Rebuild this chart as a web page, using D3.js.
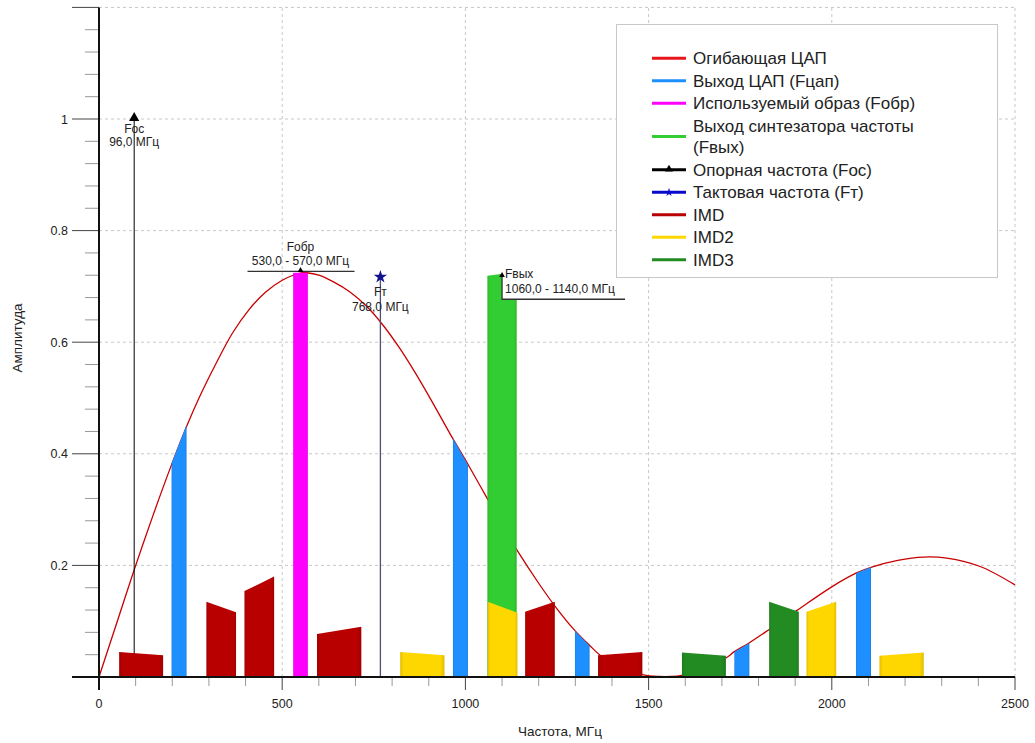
<!DOCTYPE html>
<html><head><meta charset="utf-8">
<script src="https://cdn.jsdelivr.net/npm/d3@7"></script>
<style>
html,body{margin:0;padding:0;background:#fff;}
svg{display:block;font-family:"Liberation Sans",Arial,sans-serif;}
</style></head>
<body>
<svg id="c" width="1035" height="743"></svg>
<script>
// ---------- DATA ----------
const envelopeFreq = [0, 50, 96, 146, 196, 241, 273, 318, 364, 409, 455, 500, 530, 555, 567, 600, 640, 685, 731, 771, 821, 867, 912, 965, 1008, 1062, 1100, 1143, 1200, 1249, 1299, 1340, 1368, 1420, 1486, 1530, 1560, 1590, 1650, 1713, 1733, 1774, 1831, 1904, 2001, 2066, 2109, 2180, 2250, 2314, 2405, 2500];
const envelopeAmp  = [0, 0.100, 0.192, 0.287, 0.377, 0.452, 0.500, 0.560, 0.616, 0.658, 0.690, 0.711, 0.720, 0.7245, 0.7245, 0.720, 0.708, 0.690, 0.664, 0.634, 0.589, 0.541, 0.490, 0.428, 0.380, 0.317, 0.272, 0.225, 0.168, 0.123, 0.083, 0.056, 0.039, 0.020, 0.004, 0.001, 0.001, 0.003, 0.016, 0.035, 0.045, 0.061, 0.086, 0.119, 0.162, 0.186, 0.197, 0.209, 0.215, 0.213, 0.198, 0.165];

// bands: [start MHz, end MHz, amplitude at start, amplitude at end]
const dacBands   = [[198, 239, 0.383, 0.452], [966, 1007, 0.428, 0.380], [1299, 1339, 0.083, 0.056], [1734, 1775, 0.045, 0.061], [2066, 2107, 0.186, 0.197]];
const imageBands = [[530, 570, 0.7245, 0.7245]];
const outBands   = [[1060, 1140, 0.719, 0.726]];
const imdBands   = [[55, 175, 0.045, 0.039], [293, 374, 0.135, 0.116], [397, 478, 0.154, 0.180], [595, 716, 0.077, 0.090], [1163, 1244, 0.117, 0.135], [1362, 1483, 0.039, 0.045]];
const imd2Bands  = [[822, 943, 0.045, 0.039], [1061, 1142, 0.135, 0.115], [1931, 2012, 0.117, 0.135], [2130, 2251, 0.038, 0.044]];
const imd3Bands  = [[1591, 1711, 0.044, 0.038], [1829, 1910, 0.135, 0.117]];

const refFreq = 96.0, refAmp = 1.0;       // Fос
const clkFreq = 768.0, clkAmp = 0.717;    // Fт
const imgLabel = {center: 550, amp: 0.727, name: "Fобр", text: "530,0 - 570,0 МГц"};
const outLabel = {center: 1100, amp: 0.72, name: "Fвых", text: "1060,0 - 1140,0 МГц"};

const xTicksMajor = [0, 500, 1000, 1500, 2000, 2500];
const yTicksMajor = [0, 0.2, 0.4, 0.6, 0.8, 1.0, 1.2];
const yTickLabels = ["", "0.2", "0.4", "0.6", "0.8", "1", ""];

const legendNames = ["Огибающая ЦАП", "Выход ЦАП (Fцап)", "Используемый образ (Fобр)", ["Выход синтезатора частоты", "(Fвых)"], "Опорная частота (Fос)", "Тактовая частота (Fт)", "IMD", "IMD2", "IMD3"];

// ---------- STYLE ----------
const C = {
  env: "#c80000", envLegend: "#e8161b", dac: "#1e8fff", image: "#ff00ff", out: "#32cd32",
  imd: "#b80000", imd2: "#ffd700", imd3: "#228b22", ref: "#000000", clk: "#0a0acd",
  clkLine: "#50507a", star: "#12128c", grid: "#c8c8c8", text: "#222"
};
const legendColors = [C.envLegend, C.dac, C.image, C.out, C.ref, C.clk, C.imd, C.imd2, C.imd3];

const svg = d3.select("#c");
const x = d3.scaleLinear().domain([0, 2500]).range([99, 1015]);
const y = d3.scaleLinear().domain([0, 1.2]).range([677, 7.4]);

// gridlines
const grid = svg.append("g");
grid.selectAll("line.v").data(xTicksMajor.slice(1)).join("line")
  .attr("x1", d => x(d)).attr("x2", d => x(d)).attr("y1", y(0)).attr("y2", y(1.2))
  .attr("stroke", C.grid).attr("stroke-dasharray", "3,3");
grid.selectAll("line.h").data(yTicksMajor.slice(1)).join("line")
  .attr("x1", x(0)).attr("x2", x(2500)).attr("y1", d => y(d)).attr("y2", d => y(d))
  .attr("stroke", C.grid).attr("stroke-dasharray", "3,3");

// envelope
const envData = envelopeFreq.map((f, i) => [f, envelopeAmp[i]]);
svg.append("path").datum(envData)
  .attr("d", d3.line().x(d => x(d[0])).y(d => y(d[1])).curve(d3.curveCatmullRom.alpha(0.5)))
  .attr("fill", "none").attr("stroke", C.env).attr("stroke-width", 1.3);

// vertical marker lines
svg.append("line").attr("x1", x(refFreq)).attr("x2", x(refFreq)).attr("y1", y(0)).attr("y2", y(refAmp))
  .attr("stroke", "#000").attr("stroke-width", 1);
svg.append("line").attr("x1", x(clkFreq)).attr("x2", x(clkFreq)).attr("y1", y(0)).attr("y2", y(clkAmp))
  .attr("stroke", C.clkLine).attr("stroke-width", 1.3);

// bars (gradient shading at edges)
const defs = svg.append("defs");
function grad(id, col) {
  const g = defs.append("linearGradient").attr("id", id).attr("x1", 0).attr("x2", 1).attr("y1", 0).attr("y2", 0);
  const dk = d3.color(col).darker(0.35);
  g.append("stop").attr("offset", "0%").attr("stop-color", dk);
  g.append("stop").attr("offset", "8%").attr("stop-color", col);
  g.append("stop").attr("offset", "90%").attr("stop-color", col);
  g.append("stop").attr("offset", "100%").attr("stop-color", dk);
  return `url(#${id})`;
}
function drawBands(data, col, id) {
  const fill = grad(id, col);
  svg.append("g").selectAll("path").data(data).join("path")
    .attr("d", d => `M${x(d[0])},${y(0)}L${x(d[0])},${y(d[2])}L${x(d[1])},${y(d[3])}L${x(d[1])},${y(0)}Z`)
    .attr("fill", fill);
}
drawBands(imdBands, C.imd, "gImd");
drawBands(dacBands, C.dac, "gDac");
drawBands(imageBands, C.image, "gImg");
drawBands(outBands, C.out, "gOut");
drawBands(imd2Bands, C.imd2, "gImd2");
drawBands(imd3Bands, C.imd3, "gImd3");

// axes
const axes = svg.append("g");
const minorX = d3.range(0, 2501, 100).filter(d => d % 500 !== 0);
axes.selectAll("line.mx").data(minorX).join("line")
  .attr("x1", d => x(d)).attr("x2", d => x(d)).attr("y1", y(0)).attr("y2", y(0) + 9)
  .attr("stroke", "#999");
axes.selectAll("line.Mx").data(xTicksMajor).join("line")
  .attr("x1", d => x(d)).attr("x2", d => x(d)).attr("y1", y(0)).attr("y2", y(0) + 13)
  .attr("stroke", "#444");
axes.selectAll("text.xl").data(xTicksMajor).join("text")
  .attr("x", d => x(d)).attr("y", 708).attr("text-anchor", "middle")
  .attr("font-size", 12.5).attr("fill", C.text).text(d => d);
const minorY = d3.range(0, 1.2001, 0.04).filter(d => Math.abs(d / 0.2 - Math.round(d / 0.2)) > 1e-6);
axes.selectAll("line.my").data(minorY).join("line")
  .attr("x1", x(0) - 14).attr("x2", x(0)).attr("y1", d => y(d)).attr("y2", d => y(d))
  .attr("stroke", "#999");
axes.selectAll("line.My").data(yTicksMajor).join("line")
  .attr("x1", x(0) - 27).attr("x2", x(0)).attr("y1", d => y(d)).attr("y2", d => y(d))
  .attr("stroke", "#444");
axes.selectAll("text.yl").data(yTicksMajor).join("text")
  .attr("x", 68).attr("y", d => y(d) + 4.5).attr("text-anchor", "end")
  .attr("font-size", 12.5).attr("fill", C.text).text((d, i) => yTickLabels[i]);
axes.append("line").attr("x1", x(0)).attr("x2", x(0)).attr("y1", y(1.2)).attr("y2", y(0) + 13)
  .attr("stroke", "#111").attr("stroke-width", 2);
axes.append("line").attr("x1", x(0) - 27).attr("x2", x(2500)).attr("y1", y(0)).attr("y2", y(0))
  .attr("stroke", "#111").attr("stroke-width", 2);
svg.append("text").attr("x", 560).attr("y", 736).attr("text-anchor", "middle")
  .attr("font-size", 13.5).attr("fill", C.text).text("Частота, МГц");
svg.append("text").attr("transform", "translate(22,338) rotate(-90)").attr("text-anchor", "middle")
  .attr("font-size", 13.5).attr("fill", C.text).text("Амплитуда");

// markers & annotations
const tri = d3.symbol().type(d3.symbolTriangle);
const star = d3.symbol().type(d3.symbolStar);
svg.append("path").attr("d", tri.size(45)()).attr("transform", `translate(${x(refFreq)},${y(refAmp) - 1})`).attr("fill", "#000");
svg.append("text").attr("x", x(refFreq)).attr("y", 133).attr("text-anchor", "middle").attr("font-size", 12).attr("fill", C.text).text("Fос");
svg.append("text").attr("x", x(refFreq)).attr("y", 146).attr("text-anchor", "middle").attr("font-size", 12).attr("fill", C.text).text(refFreq.toFixed(1).replace(".", ",") + " МГц");

svg.append("path").attr("d", star.size(55)()).attr("transform", `translate(${x(clkFreq)},${y(clkAmp)})`).attr("fill", C.star);
svg.append("text").attr("x", x(clkFreq)).attr("y", 296).attr("text-anchor", "middle").attr("font-size", 12).attr("fill", C.text).text("Fт");
svg.append("text").attr("x", x(clkFreq)).attr("y", 311).attr("text-anchor", "middle").attr("font-size", 12).attr("fill", C.text).text(clkFreq.toFixed(1).replace(".", ",") + " МГц");

// Fобр callout
{
  const cx = x(imgLabel.center), cy = y(imgLabel.amp);
  svg.append("line").attr("x1", cx - 53).attr("x2", cx + 54).attr("y1", cy).attr("y2", cy).attr("stroke", "#333").attr("stroke-width", 1.3);
  svg.append("path").attr("d", tri.size(14)()).attr("transform", `translate(${cx},${cy - 1})`).attr("fill", "#000");
  svg.append("text").attr("x", cx).attr("y", cy - 20).attr("text-anchor", "middle").attr("font-size", 12).attr("fill", C.text).text(imgLabel.name);
  svg.append("text").attr("x", cx).attr("y", cy - 6).attr("text-anchor", "middle").attr("font-size", 12).attr("fill", C.text).text(imgLabel.text);
}
// Fвых callout
{
  const cx = x(outLabel.center), cy = y(outLabel.amp);
  svg.append("rect").attr("x", cx).attr("y", cy - 14).attr("width", 123).attr("height", 38).attr("fill", "#fff");
  svg.append("path").attr("d", `M${cx},${cy}V${cy + 24}H${cx + 123}`).attr("fill", "none").attr("stroke", "#333").attr("stroke-width", 1.3);
  svg.append("path").attr("d", tri.size(14)()).attr("transform", `translate(${cx},${cy})`).attr("fill", "#000");
  svg.append("text").attr("x", cx + 3).attr("y", cy + 3).attr("font-size", 12).attr("fill", C.text).text(outLabel.name);
  svg.append("text").attr("x", cx + 3).attr("y", cy + 18).attr("font-size", 12).attr("fill", C.text).text(outLabel.text);
}

// legend
const lg = svg.append("g");
lg.append("rect").attr("x", 616.5).attr("y", 24.5).attr("width", 381).attr("height", 253)
  .attr("fill", "#fff").attr("stroke", "#c8c8c8");
const rowY = [58.3, 80.8, 103.3, 136.5, 169.8, 192.3, 214.8, 237.3, 259.8];
legendNames.forEach((name, i) => {
  const yy = rowY[i];
  lg.append("line").attr("x1", 652).attr("x2", 686).attr("y1", yy).attr("y2", yy)
    .attr("stroke", legendColors[i]).attr("stroke-width", 3);
  if (i === 4) lg.append("path").attr("d", tri.size(28)()).attr("transform", `translate(669,${yy - 0.5})`).attr("fill", "#000");
  if (i === 5) lg.append("path").attr("d", star.size(22)()).attr("transform", `translate(669,${yy})`).attr("fill", C.clk);
  const lines = Array.isArray(name) ? name : [name];
  lines.forEach((t, j) => {
    lg.append("text").attr("x", 693).attr("y", yy + 6 + (lines.length > 1 ? (j - 0.5) * 21 : 0))
      .attr("font-size", 17).attr("fill", C.text).text(t);
  });
});
</script>
</body></html>
